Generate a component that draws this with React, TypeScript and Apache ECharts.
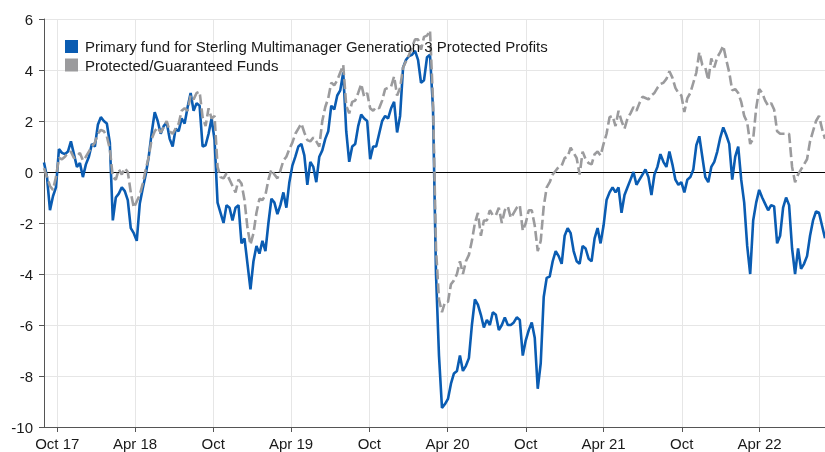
import React, { useEffect, useRef } from "react";
import * as echarts from "echarts";

// Weekly observations starting 31 Aug 2017
const startDate = "2017-08-31";
const weekStepDays = 7;

const seriesNames = [
  "Primary fund for Sterling Multimanager Generation 3 Protected Profits",
  "Protected/Guaranteed Funds",
];

const fundValues = [
  0.37, -0.2, -1.5, -0.95, -0.6, 0.9, 0.75, 0.7, 0.8, 1.2,
  0.7, 0.2, 0.35, -0.2, 0.3, 0.6, 1.1, 1.0, 1.85, 2.15,
  2.0, 1.9, 1.15, -1.9, -1.0, -0.85, -0.6, -0.75, -1.1, -2.2,
  -2.4, -2.7, -1.25, -0.65, -0.1, 0.6, 1.55, 2.35, 2.0, 1.5,
  1.8, 1.95, 1.3, 1.0, 1.7, 1.6, 2.1, 1.9, 2.55, 3.1,
  2.4, 2.7, 2.6, 1.0, 1.05, 1.5, 2.1, 1.25, -1.2, -1.6,
  -2.0, -1.3, -1.4, -1.9, -1.4, -1.3, -2.8, -2.6, -3.6, -4.6,
  -3.5, -2.9, -3.2, -2.7, -3.1, -2.0, -1.05, -1.2, -1.65, -1.3,
  -0.8, -1.4, -0.4, 0.25, 0.6, 1.0, 1.1, 0.65, -0.5, 0.4,
  0.2, -0.4, 0.6, 0.85, 1.3, 1.6, 2.6, 2.45, 3.0, 3.2,
  3.9, 1.6, 0.4, 1.0, 1.1, 1.8, 2.25, 2.1, 2.0, 0.5,
  1.0, 1.0, 1.5, 2.0, 2.2, 2.1, 2.5, 2.75, 1.55, 2.2,
  4.1, 4.4, 4.55, 4.6, 4.75, 4.4, 3.5, 3.6, 4.5, 4.6,
  2.5, -4.0, -7.2, -9.25, -9.1, -8.9, -8.3, -7.9, -7.8, -7.2,
  -7.8, -7.6, -7.3, -6.0, -5.0, -5.2, -5.6, -6.1, -5.8, -6.0,
  -5.5, -5.6, -6.2, -6.0, -5.7, -6.0, -6.0, -5.9, -5.7, -5.8,
  -7.2, -6.6, -6.2, -5.9, -6.5, -8.5, -7.5, -4.9, -4.15, -4.1,
  -3.5, -3.1, -3.3, -3.6, -2.5, -2.2, -2.4, -3.1, -3.5, -3.6,
  -2.9, -3.0, -3.4, -3.5, -2.6, -2.2, -2.8, -2.1, -1.1, -0.8,
  -0.6, -0.8, -0.6, -1.6, -0.9, -0.6, -0.3, 0.0, -0.5, -0.3,
  -0.1, 0.1, -0.2, -0.9, -0.1, 0.2, 0.7, 0.4, 0.2, 0.8,
  0.3, -0.3, -0.5, -0.4, -0.8, -0.3, -0.2, 0.1, 1.05, 1.4,
  0.6, -0.2, -0.4, 0.2, 0.4, 0.8, 1.35, 1.75, 1.45, 1.1,
  -0.3, 0.6, 1.0, -0.3, -1.2, -2.9, -4.0, -1.9, -1.2, -0.7,
  -1.0, -1.25, -1.5, -1.3, -1.35, -2.8, -2.5, -1.4, -1.0, -1.3,
  -3.0, -4.0, -3.0, -3.8, -3.6, -3.3, -2.5, -1.9, -1.55, -1.6,
  -2.1, -2.6,
];

const sectorValues = [
  0.15, -0.2, -0.55, -0.7, -0.2, 0.55, 0.5, 0.6, 0.75, 0.8,
  0.55, 0.6, 0.75, 0.45, 0.6, 0.8, 1.0, 1.15, 1.5, 1.65,
  1.6, 1.4, 0.9, -0.2, -0.3, 0.1, -0.1, 0.15, 0.0, -0.8,
  -1.4, -1.15, -0.9, -0.45, 0.1, 0.6, 1.3, 1.6, 1.75, 1.55,
  1.75, 2.0, 1.6, 1.5, 1.7, 1.9, 2.4, 2.5, 2.4, 3.0,
  2.85, 3.1, 3.15, 2.15, 1.8, 2.5, 2.1, 2.2, 0.2, -0.2,
  -0.25, -0.05, -0.3, -0.55, -0.8, -0.3, -0.45, -1.1, -2.2, -2.85,
  -2.4, -1.6, -1.05, -1.1, -0.9, -0.3, 0.1, -0.1, -0.25, 0.05,
  0.45, 0.6, 0.9, 1.15, 1.5, 1.7, 1.9, 1.55, 1.25, 1.2,
  1.35, 1.2, 1.0, 2.0, 2.55, 2.9, 3.5, 3.4, 3.6, 3.9,
  4.2, 2.6, 2.3, 2.75, 2.8, 3.1, 3.45, 2.95, 3.1, 2.5,
  2.4, 2.55, 2.5, 2.8, 3.25, 3.3, 3.35, 3.75, 3.0, 3.3,
  4.1, 4.35, 4.6, 4.9, 5.2, 5.2, 4.8, 5.3, 5.35, 5.55,
  2.8, -3.0, -5.0, -5.5, -5.1, -5.1, -4.4, -4.25, -4.0, -3.5,
  -4.0, -3.5, -3.25, -2.7, -2.0, -1.6, -2.5, -1.9, -1.9, -1.5,
  -1.7, -1.7, -1.4, -2.0, -1.5, -1.35, -1.8, -1.6, -1.4, -1.3,
  -2.3, -2.0, -1.5, -1.5, -2.1, -3.1, -2.7, -1.35, -0.6, -0.4,
  -0.1, 0.05, 0.2, 0.25, 0.55, 0.6, 0.95, 0.75, 0.55, -0.1,
  0.8, 0.5, 0.35, 0.3, 0.7, 0.8, 0.65, 1.1, 1.5, 2.15,
  2.2, 1.8, 2.4, 2.0, 1.7, 2.1, 2.3, 2.55, 2.4, 2.7,
  2.95, 2.9, 2.85, 3.0, 3.1, 3.3, 3.45, 3.5, 3.65, 3.95,
  3.7, 3.3, 3.1, 3.0, 2.35, 2.9, 3.1, 3.5, 3.9, 4.7,
  4.2, 4.1, 3.6, 4.45, 4.1, 4.5, 4.7, 4.95, 4.4, 3.9,
  3.2, 3.25, 3.1, 2.75, 2.2, 1.95, 1.1, 1.3, 2.5, 3.25,
  3.1, 2.8, 2.6, 2.7, 2.45, 1.6, 1.5, 1.5, 1.5, 1.5,
  0.2, -0.4, -0.1, 0.1, 0.3, 0.5, 1.2, 1.6, 2.0, 2.2,
  1.7, 1.3,
];

const tickDates = [
  "2017-10-01", "2018-04-01", "2018-10-01", "2019-04-01", "2019-10-01",
  "2020-04-01", "2020-10-01", "2021-04-01", "2021-10-01", "2022-04-01",
];
const tickLabels = [
  "Oct 17", "Apr 18", "Oct", "Apr 19", "Oct",
  "Apr 20", "Oct", "Apr 21", "Oct", "Apr 22",
];

const yMin = -10;
const yMax = 6;
const yStep = 2;

const BLUE = "#0a5cb2";
const GRAY = "#9b9b9d";
const FONT = "'Liberation Sans', Arial, sans-serif";

const DAY = 86400000;

function toTs(d: string): number {
  const [y, m, dd] = d.split("-").map(Number);
  return Date.UTC(y, m - 1, dd);
}

export default function App() {
  const ref = useRef<HTMLDivElement>(null);

  useEffect(() => {
    if (!ref.current) return;
    const chart = echarts.init(ref.current, null, { renderer: "svg" });
    const t0 = toTs(startDate);
    // x measured in days since the first observation
    const fundData = fundValues.map((v, i) => [i * weekStepDays, v]);
    const sectorData = sectorValues.map((v, i) => [i * weekStepDays, v]);
    const tickDays = tickDates.map((d) => Math.round((toTs(d) - t0) / DAY));
    const labelMap = new Map<number, string>();
    tickDays.forEach((t, i) => labelMap.set(t, tickLabels[i]));
    const xMax = (fundValues.length - 1) * weekStepDays;

    chart.setOption({
      animation: false,
      grid: { left: 44, right: 0, top: 19, bottom: 25, containLabel: false },
      legend: {
        orient: "vertical",
        left: 65,
        top: 39,
        padding: 0,
        itemWidth: 13,
        itemHeight: 13,
        itemGap: 3.5,
        textStyle: {
          fontFamily: FONT,
          fontSize: 15,
          lineHeight: 13,
          color: "#1a1a1a",
          padding: [0, 0, 0, 2],
        },
        data: [
          { name: seriesNames[0], icon: "rect", itemStyle: { color: BLUE } },
          { name: seriesNames[1], icon: "rect", itemStyle: { color: GRAY } },
        ],
      },
      xAxis: {
        type: "value",
        min: 0,
        max: xMax,
        axisLine: { show: true, onZero: false, lineStyle: { color: "#555", width: 1 } },
        axisTick: {
          show: true,
          length: 5,
          lineStyle: { color: "#555" },
          customValues: tickDays,
        },
        axisLabel: {
          customValues: tickDays,
          fontFamily: FONT,
          fontSize: 15,
          color: "#1a1a1a",
          margin: 9,
          showMinLabel: true,
          showMaxLabel: true,
          formatter: (val: number) => labelMap.get(val) ?? "",
        },
        splitLine: { show: true, lineStyle: { color: "#e6e6e6", width: 1 } },
      },
      yAxis: {
        type: "value",
        min: yMin,
        max: yMax,
        interval: yStep,
        axisLine: { show: true, lineStyle: { color: "#555", width: 1 } },
        axisTick: { show: true, length: 5, lineStyle: { color: "#555" } },
        axisLabel: { fontFamily: FONT, fontSize: 15, color: "#1a1a1a", margin: 11 },
        splitLine: { show: true, lineStyle: { color: "#e6e6e6", width: 1 } },
      },
      series: [
        {
          name: seriesNames[0],
          type: "line",
          data: fundData,
          showSymbol: false,
          symbol: "none",
          lineStyle: { color: BLUE, width: 2.6 },
          itemStyle: { color: BLUE },
          z: 2,
          markLine: {
            silent: true,
            symbol: "none",
            label: { show: false },
            lineStyle: { color: "#000", width: 1, type: "solid" },
            data: [{ yAxis: 0 }],
            z: 1,
          },
        },
        {
          name: seriesNames[1],
          type: "line",
          data: sectorData,
          showSymbol: false,
          symbol: "none",
          lineStyle: { color: GRAY, width: 2.6, type: [10, 4] },
          itemStyle: { color: GRAY },
          z: 3,
        },
      ],
    });
    return () => chart.dispose();
  }, []);

  return (
    <div
      ref={ref}
      style={{ position: "fixed", left: 0, top: 0, width: 825, height: 452 }}
    />
  );
}
